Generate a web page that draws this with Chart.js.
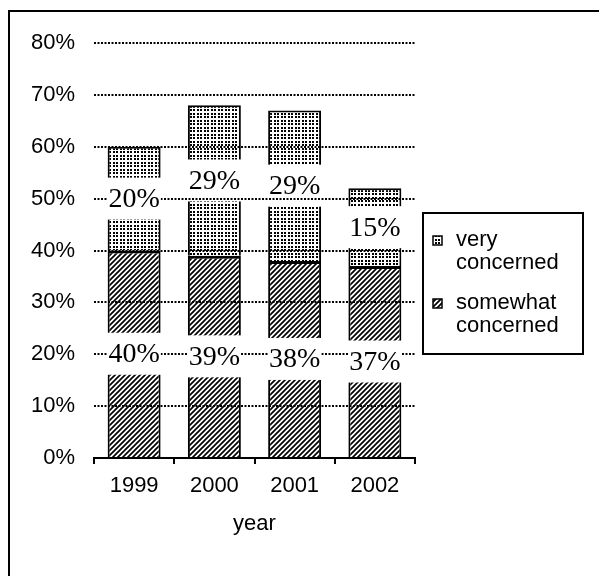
<!DOCTYPE html>
<html>
<head>
<meta charset="utf-8">
<script src="https://cdn.jsdelivr.net/npm/chart.js@4/dist/chart.umd.min.js"></script>
<style>
  html, body { margin: 0; padding: 0; background: #fff; }
  #wrap { width: 599px; height: 576px; }
</style>
</head>
<body>
<div id="wrap"><canvas id="chart" width="599" height="576"></canvas></div>
<script>
// data
const years = ['1999', '2000', '2001', '2002'];
const somewhatConcerned = [40, 39, 38, 37];
const veryConcerned = [20, 29, 29, 15];
const yTicks = [0, 10, 20, 30, 40, 50, 60, 70, 80];
const legendLines = [['very', 'concerned'], ['somewhat', 'concerned']];

const canvas = document.getElementById('chart');
const ctx = canvas.getContext('2d');
const SANS = '"Liberation Sans", Arial, sans-serif';
const SERIF = '"Liberation Serif", "Times New Roman", serif';

// fill patterns
function dotPattern() {
    const c = document.createElement('canvas');
    c.width = 7; c.height = 7;
    const g = c.getContext('2d');
    g.fillStyle = '#fff';
    g.fillRect(0, 0, 7, 7);
    g.fillStyle = '#000';
    g.fillRect(1, 1, 2, 2);
    g.fillRect(4, 1, 2, 2);
    g.fillRect(1, 4, 2, 2);
    g.fillRect(4, 4, 2, 2);
    return ctx.createPattern(c, 'repeat');
}

function hatchPattern() {
    const c = document.createElement('canvas');
    c.width = 5; c.height = 5;
    const g = c.getContext('2d');
    g.fillStyle = '#fff';
    g.fillRect(0, 0, 5, 5);
    g.strokeStyle = '#000';
    g.lineWidth = 1.7;
    g.beginPath();
    g.moveTo(-1, 6); g.lineTo(6, -1);
    g.moveTo(-1, 1); g.lineTo(1, -1);
    g.moveTo(4, 6); g.lineTo(6, 4);
    g.stroke();
    return ctx.createPattern(c, 'repeat');
}

const dots = dotPattern();
const hatch = hatchPattern();

// frame, value labels and legend
const decor = {
    id: 'decor',
    beforeDraw(chart) {
        const c = chart.ctx;
        c.save();
        c.fillStyle = '#fff';
        c.fillRect(0, 0, chart.width, chart.height);
        c.strokeStyle = '#000';
        c.lineWidth = 2;
        c.strokeRect(9, 11, 640, 640);
        c.restore();
    },
    afterDatasetsDraw(chart) {
        // white boxes behind the labels, cut out of the bars
        const c = chart.ctx;
        c.save();
        c.font = '28px ' + SERIF;
        c.fillStyle = '#fff';
        chart.data.datasets.forEach((ds, di) => {
            chart.getDatasetMeta(di).data.forEach((el, i) => {
                const txt = ds.data[i] + '%';
                const w = Math.max(c.measureText(txt).width + 8, el.width + 6);
                const yc = (el.y + el.base) / 2;
                c.fillRect(el.x - w / 2, yc - 21, w, 42);
            });
        });
        c.restore();
    },
    afterDraw(chart) {
        const c = chart.ctx;
        const area = chart.chartArea;
        c.save();
        // value labels (small white box hides the grid under the text)
        c.font = '28px ' + SERIF;
        c.textAlign = 'center';
        c.textBaseline = 'middle';
        chart.data.datasets.forEach((ds, di) => {
            chart.getDatasetMeta(di).data.forEach((el, i) => {
                const txt = ds.data[i] + '%';
                const yc = (el.y + el.base) / 2;
                const w = c.measureText(txt).width + 2;
                c.fillStyle = '#fff';
                c.fillRect(el.x - w / 2, yc - 10, w, 20);
                c.fillStyle = '#000';
                c.fillText(txt, el.x, yc + 1);
            });
        });

        // legend
        const lx = area.right + 8;
        const ly = area.top + 170;
        c.strokeStyle = '#000';
        c.lineWidth = 2;
        c.strokeRect(lx, ly, 160, 141);
        c.font = '22px ' + SANS;
        c.textAlign = 'left';
        const order = [1, 0];
        order.forEach((di, k) => {
            const ds = chart.data.datasets[di];
            const top = ly + 27 + k * 63;
            c.fillStyle = ds.backgroundColor;
            c.fillRect(lx + 10, top - 4, 9, 9);
            c.lineWidth = 1.5;
            c.strokeRect(lx + 10, top - 4, 9, 9);
            c.fillStyle = '#000';
            legendLines[k].forEach((line, j) => {
                c.fillText(line, lx + 33, top + j * 23);
            });
        });
        c.restore();
    }
};

new Chart(ctx, {
    type: 'bar',
    data: {
        labels: years,
        datasets: [
            {
                label: 'somewhat concerned',
                data: somewhatConcerned,
                backgroundColor: hatch,
                borderColor: '#000',
                borderWidth: { top: 3, left: 2, right: 2, bottom: 0 },
                borderSkipped: false,
                categoryPercentage: 1,
                barPercentage: 0.66
            },
            {
                label: 'very concerned',
                data: veryConcerned,
                backgroundColor: dots,
                borderColor: '#000',
                borderWidth: { top: 2, left: 2, right: 2, bottom: 0 },
                borderSkipped: false,
                categoryPercentage: 1,
                barPercentage: 0.66
            }
        ]
    },
    options: {
        responsive: false,
        animation: false,
        layout: { padding: { left: 8, top: 43, right: 184, bottom: 18 } },
        plugins: {
            legend: { display: false },
            tooltip: { enabled: false }
        },
        scales: {
            x: {
                stacked: true,
                offset: true,
                grid: {
                    drawOnChartArea: false,
                    offset: true,
                    tickLength: 6,
                    color: '#000',
                    lineWidth: 2
                },
                border: { display: true, color: '#000', width: 2 },
                ticks: { color: '#000', font: { family: SANS, size: 22 }, padding: 9 },
                title: {
                    display: true,
                    text: 'year',
                    color: '#000',
                    font: { family: SANS, size: 22 },
                    padding: { top: 0, bottom: 21 }
                },
                afterFit: s => { s.height = 100; }
            },
            y: {
                stacked: true,
                min: 0,
                max: 80,
                afterBuildTicks: s => { s.ticks = yTicks.map(v => ({ value: v })); },
                ticks: {
                    color: '#000',
                    font: { family: SANS, size: 22 },
                    padding: 19,
                    callback: v => v + '%'
                },
                grid: { color: '#000', lineWidth: 2, drawTicks: false, z: 1 },
                border: { display: false, dash: [2, 1.5] },
                afterFit: s => { s.width = 86; }
            }
        }
    },
    plugins: [decor]
});
</script>
</body>
</html>
